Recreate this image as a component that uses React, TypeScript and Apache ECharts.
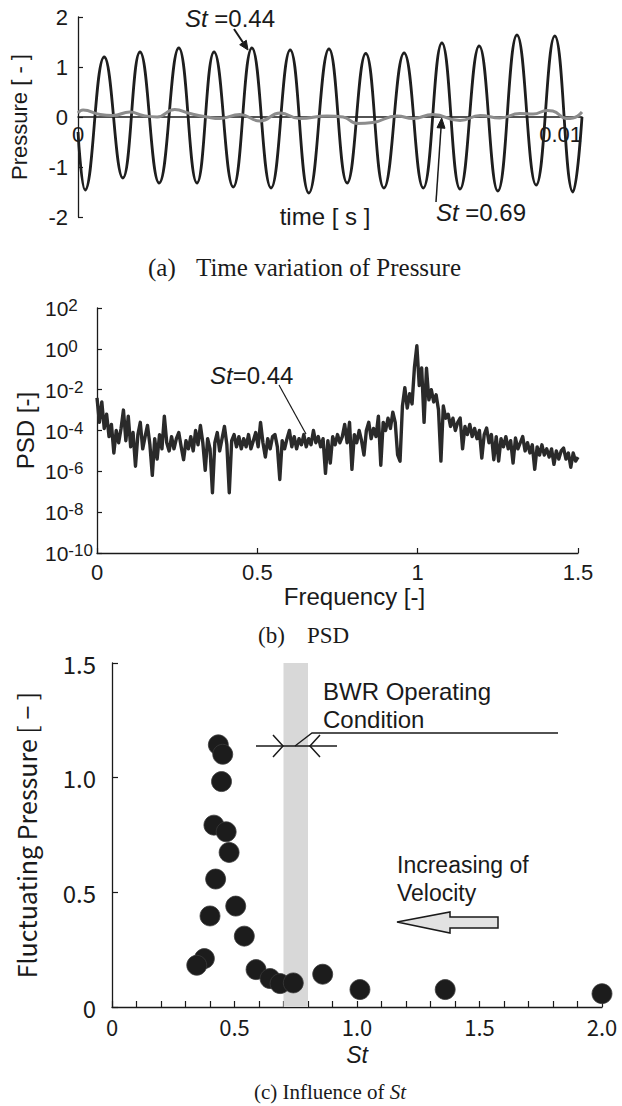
import React, { useEffect, useRef } from "react";
import * as echarts from "echarts";

// ---------- Panel (a): time variation of pressure ----------
// times in milliseconds (extrema of the St=0.44 trace)
const waveTimesMs = [0, 0.14, 0.52, 0.89, 1.23, 1.61, 2.0, 2.36, 2.7, 3.08, 3.45, 3.83, 4.21, 4.58, 4.98, 5.34, 5.71, 6.07, 6.47, 6.85, 7.22, 7.58, 7.96, 8.33, 8.71, 9.09, 9.46, 9.82, 10.0];
const waveSt044 = [-0.3, -1.46, 1.2, -1.22, 1.3, -1.32, 1.38, -1.32, 1.3, -1.4, 1.38, -1.42, 1.34, -1.52, 1.36, -1.32, 1.27, -1.42, 1.28, -1.42, 1.48, -1.44, 1.42, -1.48, 1.64, -1.36, 1.62, -1.5, 0.0];
const grayTimesMs = [0, 0.1, 0.44, 0.69, 1.03, 1.29, 1.57, 1.92, 2.22, 2.56, 2.82, 3.21, 3.61, 4.01, 4.4, 4.94, 5.26, 5.54, 5.85, 6.33, 6.65, 7.04, 7.58, 7.98, 8.37, 8.77, 9.03, 9.31, 9.42, 9.7, 9.82, 10.0];
const waveSt069 = [0.08, 0.14, 0.05, 0.03, 0.1, 0.03, 0.0, 0.15, 0.07, 0.0, -0.03, 0.05, -0.08, 0.08, -0.03, 0.02, 0.0, -0.13, -0.11, 0.02, -0.03, 0.05, -0.07, 0.03, -0.02, 0.07, 0.06, 0.13, 0.12, -0.03, -0.02, 0.1];
const pressureTicks = [-2, -1, 0, 1, 2];

// ---------- Panel (b): PSD (log10 values, frequency 0 .. 1.5) ----------
const psdFreqMax = 1.5;
const psdLog10 = [
  -2.4, -3.6, -2.6, -3.9, -3.2, -4.3, -3.7, -5.1, -4.0, -4.6, -3.9, -3.0, -4.5, -3.3,
  -4.8, -4.1, -5.75, -4.2, -3.6, -4.9, -4.3, -3.75, -4.7, -6.2, -4.4, -5.4, -4.2, -4.9, -3.3, -4.6, -5.0,
  -4.3, -4.9, -4.4, -4.1, -4.8, -5.43, -4.5, -4.9, -4.3, -5.0, -4.0, -4.7, -3.75, -4.6, -5.95, -4.4, -4.9, -7.05, -4.6, -4.1, -5.0, -4.4, -3.8, -4.7, -7.05, -4.5,
  -4.2, -4.8, -4.3, -4.9, -4.4, -4.8, -4.2, -4.9, -4.5, -4.1, -4.8, -3.6, -4.6, -5.3, -4.4, -4.9, -4.3, -4.2, -4.8, -6.4, -4.5, -4.9, -4.4, -4.0, -4.8, -4.3, -4.9, -4.4, -4.7, -4.2, -4.8, -4.4, -4.7, -4.0, -4.6, -4.3, -4.8, -4.4, -6.1, -4.5, -5.6, -4.3, -4.7, -4.2,
  -4.6, -4.3, -3.7, -4.6, -3.6, -5.9, -4.2, -4.6, -4.0, -4.5, -5.2, -4.0, -3.6, -4.4, -3.9, -4.3, -3.3, -5.7, -3.6, -4.0, -3.4, -3.9, -3.1, -3.6, -5.2, -5.5, -2.8,
  -1.9, -2.9, -2.2, -2.7, -0.9, 0.15, -1.8, -0.94, -3.6, -0.95, -2.5, -2.0, -2.6, -2.25, -3.0, -5.5, -2.8, -3.4,
  -3.2, -3.8, -3.4, -4.0, -3.6, -3.39, -4.9, -3.8, -4.2, -3.7, -4.3, -3.9, -4.4, -4.0, -5.35, -4.2, -3.88, -4.6, -4.2, -5.43, -4.3, -5.5, -4.4, -4.8, -4.3, -4.9, -4.5, -5.6, -4.37, -4.9, -4.6, -4.3, -5.0, -4.6, -5.1, -4.7, -5.9, -4.8, -5.2, -4.7, -5.2, -4.9, -5.3, -4.9, -5.66, -5.0, -5.4, -5.0, -4.86, -5.4, -5.1, -5.8, -5.1, -5.5, -5.3,
];
const psdExpTicks = [-10, -8, -6, -4, -2, 0, 2];

// ---------- Panel (c): fluctuating pressure vs St ----------
const stValues = [0.434, 0.452, 0.447, 0.416, 0.466, 0.478, 0.423, 0.505, 0.4, 0.54, 0.377, 0.346, 0.588, 0.645, 0.686, 0.74, 0.86, 1.012, 1.36, 2.0];
const fluctPressure = [1.143, 1.102, 0.983, 0.793, 0.764, 0.674, 0.558, 0.44, 0.397, 0.309, 0.211, 0.182, 0.163, 0.124, 0.102, 0.105, 0.143, 0.076, 0.076, 0.058];
const bwrBand = [0.7, 0.8];

const SANS = "'Liberation Sans', Arial, sans-serif";
const GOTHIC = "'Noto Sans CJK JP', 'Noto Sans', sans-serif";
const SERIF = "'Liberation Serif', 'Times New Roman', serif";
const INK = "#1a1a1a";

function buildOption() {
  const waveA = waveTimesMs.map((t, i) => [t / 1000, waveSt044[i]]);
  const waveB = grayTimesMs.map((t, i) => [t / 1000, waveSt069[i]]);
  const n = psdLog10.length;
  const psd = psdLog10.map((v, i) => [(i * psdFreqMax) / (n - 1), v]);
  const scatter = stValues.map((s, i) => [s, fluctPressure[i]]);

  const axisLine = { show: true, onZero: false, lineStyle: { color: INK, width: 1.3 } };
  const tick = { show: true, inside: true, length: 5, lineStyle: { color: INK, width: 1.2 } };

  const txt = (x: number, y: number, text: string, fontSize: number, family: string, align = "left", rich?: any, lineHeight?: number) => ({
    type: "text",
    x,
    y,
    z: 100,
    style: { text, fontSize, fontFamily: family, fill: INK, align, verticalAlign: "middle", rich, lineHeight },
  });
  const italicRich = (fs: number, fam: string) => ({ i: { fontStyle: "italic", fontSize: fs, fontFamily: fam, fill: INK } });

  return {
    animation: false,
    backgroundColor: "#fff",
    textStyle: { fontFamily: SANS, color: INK },
    grid: [
      { left: 78, top: 17, width: 504, height: 200, outerBoundsMode: "none" },
      { left: 97, top: 308, width: 481, height: 245, outerBoundsMode: "none" },
      { left: 112, top: 663, width: 490, height: 344, outerBoundsMode: "none" },
    ],
    xAxis: [
      {
        gridIndex: 0, type: "value", min: 0, max: 0.01, interval: 0.01, position: "bottom", offset: -100,
        axisLine: { show: true, onZero: false, lineStyle: { color: INK, width: 1.5 } },
        axisTick: { show: false }, splitLine: { show: false },
        axisLabel: { fontSize: 22, fontFamily: SANS, color: INK, margin: 6, alignMaxLabel: "right", formatter: (v: number) => (v === 0 ? "0" : "0.01") },
      },
      {
        gridIndex: 1, type: "value", min: 0, max: 1.5, interval: 0.5,
        axisLine, axisTick: tick, splitLine: { show: false },
        axisLabel: { fontSize: 22, fontFamily: SANS, color: INK, margin: 8 },
        name: "Frequency [-]", nameLocation: "middle", nameGap: 31, nameMoveOverlap: false,
        nameTextStyle: { fontSize: 24, fontFamily: SANS, color: INK, padding: [0, 0, 0, 34] },
      },
      {
        gridIndex: 2, type: "value", min: 0, max: 2, interval: 0.1,
        axisLine, axisTick: { ...tick, length: 6 }, splitLine: { show: false },
        axisLabel: {
          fontSize: 22, fontFamily: GOTHIC, color: INK, margin: 8, showMinLabel: true, showMaxLabel: true,
          formatter: (v: number) => {
            const k = v / 0.5;
            if (Math.abs(k - Math.round(k)) > 1e-6) return "";
            return Math.abs(v) < 1e-9 ? "0" : v.toFixed(1);
          },
        },
        name: "St", nameLocation: "middle", nameGap: 36, nameMoveOverlap: false,
        nameTextStyle: { fontSize: 23, fontFamily: SANS, fontStyle: "italic", color: INK },
      },
    ],
    yAxis: [
      {
        gridIndex: 0, type: "value", min: pressureTicks[0], max: pressureTicks[pressureTicks.length - 1], interval: 1,
        axisLine, axisTick: tick, splitLine: { show: false },
        axisLabel: { fontSize: 22, fontFamily: SANS, color: INK, margin: 10 },
        name: "Pressure [ - ]", nameLocation: "middle", nameGap: 48, nameMoveOverlap: false,
        nameTextStyle: { fontSize: 22, fontFamily: SANS, color: INK },
      },
      {
        gridIndex: 1, type: "value", min: psdExpTicks[0], max: psdExpTicks[psdExpTicks.length - 1], interval: 2,
        axisLine, axisTick: tick, splitLine: { show: false },
        axisLabel: {
          align: "left", margin: 52, color: INK,
          formatter: (v: number) => `{b|10}{s|${Math.round(v)}}`,
          rich: {
            b: { fontSize: 21, fontFamily: SANS, color: INK, verticalAlign: "bottom", lineHeight: 22 },
            s: { fontSize: 17, fontFamily: SANS, color: INK, verticalAlign: "top", lineHeight: 17, padding: [0, 0, 10, 0] },
          },
        },
        name: "PSD [-]", nameLocation: "middle", nameGap: 60, nameMoveOverlap: false,
        nameTextStyle: { fontSize: 24, fontFamily: SANS, color: INK },
      },
      {
        gridIndex: 2, type: "value", min: 0, max: 1.5, interval: 0.5,
        axisLine, axisTick: { ...tick, length: 6 }, splitLine: { show: false },
        axisLabel: { fontSize: 24, fontFamily: GOTHIC, color: INK, margin: 16, formatter: (v: number) => (v === 0 ? "0" : v.toFixed(1)) },
        name: "Fluctuating Pressure [ \u2212 ]", nameLocation: "middle", nameGap: 74, nameMoveOverlap: false,
        nameTextStyle: { fontSize: 25, fontFamily: GOTHIC, color: INK },
      },
    ],
    series: [
      {
        name: "St=0.44", type: "line", xAxisIndex: 0, yAxisIndex: 0, data: waveA, smooth: 0.45,
        symbol: "none", lineStyle: { color: "#1e1e1e", width: 2.8 }, z: 2,
      },
      {
        name: "St=0.69", type: "line", xAxisIndex: 0, yAxisIndex: 0, data: waveB, smooth: 0.5,
        symbol: "none", lineStyle: { color: "#8c8c8c", width: 3 }, z: 3,
      },
      {
        name: "PSD", type: "line", xAxisIndex: 1, yAxisIndex: 1, data: psd,
        symbol: "none", lineStyle: { color: "#2a2a2a", width: 3.4, join: "round" }, z: 2,
      },
      {
        name: "band", type: "scatter", xAxisIndex: 2, yAxisIndex: 2, data: [[0.75, 0.75]], symbolSize: 0,
        silent: true, z: 1, itemStyle: { opacity: 0 },
        markArea: { silent: true, itemStyle: { color: "#d8d8d8", opacity: 1 }, data: [[{ xAxis: bwrBand[0] }, { xAxis: bwrBand[1] }]] },
      },
      {
        name: "Fluctuating pressure", type: "scatter", xAxisIndex: 2, yAxisIndex: 2, data: scatter,
        symbol: "circle", symbolSize: 20, z: 3,
        itemStyle: { color: "#1c1c1c", borderColor: "#3a3a3a", borderWidth: 0.8, opacity: 1 },
      },
    ],
    graphic: [
      // panel (a)
      txt(185, 18, "{i|St} =0.44", 24, SANS, "left", italicRich(24, SANS)),
      { type: "line", z: 100, shape: { x1: 234, y1: 29, x2: 243, y2: 42.5 }, style: { stroke: INK, lineWidth: 2 } },
      { type: "polygon", z: 100, shape: { points: [[248, 50], [239.7, 44.7], [246.3, 40.3]] }, style: { fill: INK, stroke: INK, lineWidth: 1 } },
      txt(436, 212, "{i|St} =0.69", 24, SANS, "left", italicRich(24, SANS)),
      { type: "line", z: 100, shape: { x1: 436, y1: 202, x2: 441, y2: 128 }, style: { stroke: INK, lineWidth: 1.5 } },
      { type: "polygon", z: 100, shape: { points: [[441.7, 118], [445, 128.3], [437, 127.7]] }, style: { fill: INK, stroke: INK, lineWidth: 1 } },
      txt(325, 216, "time [ s ]", 24, SANS, "center"),
      txt(148, 267, "(a)", 25, SERIF, "left"),
      txt(196, 267, "Time variation of Pressure", 25, SERIF, "left"),
      // panel (b)
      txt(210, 375, "{i|St}=0.44", 24, SANS, "left", italicRich(24, SANS)),
      { type: "line", z: 100, shape: { x1: 279, y1: 385, x2: 306, y2: 434 }, style: { stroke: INK, lineWidth: 1.2 } },
      txt(258, 635, "(b)", 23, SERIF, "left"),
      txt(307, 635, "PSD", 23, SERIF, "left"),
      // panel (c)
      txt(323, 705, "BWR Operating\nCondition", 24, SANS, "left", undefined, 28),
      { type: "polyline", z: 100, shape: { points: [[295, 746], [312, 733], [558, 733]] }, style: { stroke: INK, lineWidth: 1.3, fill: null } },
      { type: "line", z: 100, shape: { x1: 256, y1: 746, x2: 337, y2: 746 }, style: { stroke: INK, lineWidth: 1.5 } },
      { type: "polyline", z: 100, shape: { points: [[273, 735], [283, 746], [273, 757]] }, style: { stroke: INK, lineWidth: 1.5, fill: null } },
      { type: "polyline", z: 100, shape: { points: [[320, 735], [310, 746], [320, 757]] }, style: { stroke: INK, lineWidth: 1.5, fill: null } },
      txt(397, 879, "Increasing of\nVelocity", 23, SANS, "left", undefined, 28),
      {
        type: "polygon", z: 100,
        shape: { points: [[397, 922], [450, 912], [450, 917], [498, 917], [498, 928], [450, 928], [450, 933]] },
        style: { fill: "#e2e2e2", stroke: INK, lineWidth: 1.5 },
      },
      txt(330, 1092, "(c) Influence of {i|St}", 21, SERIF, "center", italicRich(21, SERIF)),
    ],
  };
}

export default function App() {
  const ref = useRef<HTMLDivElement>(null);
  useEffect(() => {
    if (!ref.current) return;
    const chart = echarts.init(ref.current, undefined, { renderer: "svg", width: 622, height: 1106 });
    chart.setOption(buildOption() as any);
    return () => chart.dispose();
  }, []);
  return (
    <div
      ref={ref}
      style={{ position: "absolute", left: 0, top: 0, width: 622, height: 1106, background: "#fff" }}
    />
  );
}
